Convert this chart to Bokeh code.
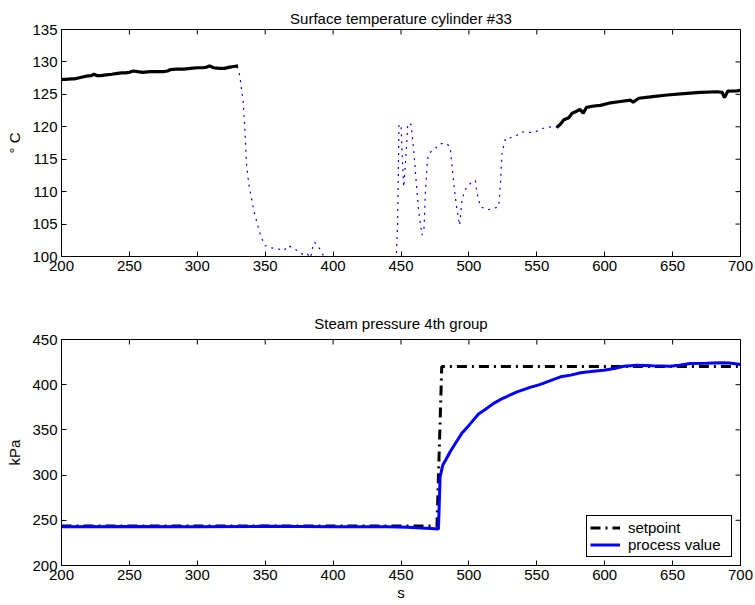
import math
from bokeh.plotting import figure
from bokeh.models import FixedTicker, Range1d, Legend, LegendItem
from bokeh.layouts import column
from bokeh.embed import file_html
from bokeh.resources import INLINE

# ---------------- data ----------------
# Surface temperature cylinder #33 (deg C) -- solid black part before the change
temp_t_before = [200, 203, 207, 210, 214, 218, 222, 224, 226, 229, 233, 237, 240, 244,
                 247, 250, 253, 256, 260, 265, 270, 275, 278, 280, 285, 290, 295, 300,
                 304, 307, 309, 312, 316, 320, 324, 327, 330]
temp_before = [127.3, 127.3, 127.4, 127.4, 127.6, 127.8, 127.9, 128.1, 127.9, 127.9, 128.0,
               128.1, 128.2, 128.3, 128.3, 128.4, 128.6, 128.5, 128.4, 128.5, 128.5, 128.5,
               128.6, 128.8, 128.9, 128.9, 129.0, 129.1, 129.1, 129.2, 129.4, 129.1, 129.0,
               129.0, 129.2, 129.3, 129.4]

# dotted blue transient part (values below 100 fall outside the axis)
temp_t_trans = [329.4, 331.3, 332.5, 333.8, 334.8, 335.5, 336.2, 337.9, 339.7, 341.6, 344.1,
                347.0, 349.7, 352.7, 355.9, 359.3, 363.7, 366.9, 371.1, 374.8, 378.4, 381.0,
                383.4, 384.6, 386.3, 389.5, 392.0, 395.0, 405, 420, 435, 444, 446.5, 447.5,
                448.5, 450, 451, 452, 453.5, 455, 456, 457.5, 459.5, 461, 463, 465.5, 467,
                468, 469.5, 471, 475, 479, 484, 486.4, 488, 489.5, 491.3, 493.2, 495, 498.2,
                502.3, 504.8, 506, 508.5, 513.4, 518.3, 522, 523.2, 524.4, 526.9, 533, 539.2,
                547.8, 552.7, 557.6, 564.5]
temp_trans = [129.3, 127.9, 125.9, 123.8, 120.5, 117.4, 114.3, 111.2, 109.2, 107.1, 105.1,
              103.0, 101.7, 101.4, 101.3, 101.2, 100.9, 101.7, 101.2, 100.8, 100.2, 100.4,
              99.8, 101.1, 102.2, 101.4, 100.5, 99.2, 97.5, 96.5, 97.0, 98.5, 99.8, 105.0,
              120.2, 120.4, 115.0, 110.7, 115.0, 120.4, 120.6, 120.3, 116.0, 112.0, 107.0,
              103.3, 104.5, 110.0, 115.0, 116.0, 116.6, 117.4, 117.4, 116.6, 113.0, 110.0,
              107.1, 104.8, 108.9, 110.7, 111.5, 111.7, 109.7, 107.7, 107.2, 107.4, 107.7,
              111.2, 115.9, 118.2, 118.4, 119.2, 119.1, 119.6, 120.0, 119.9]

# solid black part after the change
temp_t_after = [564.5, 567.4, 569.9, 573.6, 576.0, 578.5, 581.7, 584.2, 586.6, 592.0, 596.9,
                604.3, 611.6, 619.0, 621.0, 625.1, 633.7, 646.0, 658.2, 670.5, 682.8, 686.5,
                688.2, 690.7, 697.5, 700]
temp_after = [119.9, 120.4, 121.1, 121.4, 122.1, 122.3, 122.7, 122.1, 123.0, 123.2, 123.3,
              123.7, 123.9, 124.1, 123.8, 124.4, 124.6, 124.9, 125.1, 125.3, 125.4, 125.3,
              124.5, 125.5, 125.55, 125.6]

# Steam pressure 4th group (kPa)
sp_t = [200, 476.5, 480, 700]
setpoint = [243.8, 243.8, 420, 420]

pv_t = [200, 250, 300, 350, 400, 440, 455, 465, 472, 477.6, 478.8, 480.8, 483, 486.2, 490,
        494.8, 500, 507.1, 512, 518.2, 525, 535.5, 545, 552.7, 560, 567.5, 575, 582.2,
        590, 599.3, 607, 614, 624, 635, 648, 655, 663, 675, 685, 692, 700]
process_value = [243, 243.2, 243, 243.3, 243, 242.8, 242.3, 241.6, 241.0, 240.5, 298.3,
                 311.2, 317, 325.9, 335, 346.2, 355, 367.5, 372.5, 379.3, 385, 392.1, 397,
                 400.3, 404.5, 408.7, 410.6, 413.2, 414.5, 416.1, 418, 420.5, 421.6, 421,
                 420.5, 421.5, 423.5, 423.8, 424.2, 424, 422.4]

x_ticks = [200, 250, 300, 350, 400, 450, 500, 550, 600, 650, 700]
temp_ticks = [100, 105, 110, 115, 120, 125, 130, 135]
press_ticks = [200, 250, 300, 350, 400, 450]

FONT = "Liberation Sans"
FS = "15px"


def style_axis(ax, ticks):
    ax.ticker = FixedTicker(ticks=ticks)
    ax.axis_line_color = "black"
    ax.major_tick_line_color = "black"
    ax.major_tick_in = 5
    ax.major_tick_out = 0
    ax.minor_tick_line_color = None
    ax.major_label_text_font = FONT
    ax.major_label_text_color = "black"
    ax.major_label_text_font_size = FS
    ax.major_label_standoff = 4
    ax.axis_label_text_font = FONT
    ax.axis_label_text_font_size = FS
    ax.axis_label_text_font_style = "normal"
    ax.axis_label_text_color = "black"


def make_fig(height, title, title_gap, y0, y1, yticks, ylabel, xlabel, mt, mb):
    p = figure(width=753, height=height, x_range=Range1d(200, 700), y_range=Range1d(y0, y1),
               output_backend="svg", toolbar_location=None,
               min_border_left=61, min_border_right=13,
               min_border_top=mt, min_border_bottom=mb)
    p.title.text = title
    p.title.align = "center"
    p.title.text_font = FONT
    p.title.text_font_size = FS
    p.title.text_font_style = "normal"
    p.title.text_color = "black"
    p.title.standoff = title_gap
    p.grid.visible = False
    p.outline_line_color = "black"
    p.outline_line_alpha = 1
    p.outline_line_width = 1
    p.background_fill_color = "white"
    p.border_fill_color = "white"
    style_axis(p.xaxis[0], x_ticks)
    style_axis(p.yaxis[0], yticks)
    p.yaxis[0].axis_label = ylabel
    p.yaxis[0].axis_label_standoff = 6
    if xlabel:
        p.xaxis[0].axis_label = xlabel
        p.xaxis[0].axis_label_standoff = 1
    # inward tick marks on the top and right frame edges (half clipped by the frame)
    p.scatter(x_ticks, [y1] * len(x_ticks), marker="dash", angle=math.pi / 2, size=10,
              line_color="black", line_width=1)
    p.scatter([700] * len(yticks), yticks, marker="dash", angle=0, size=10,
              line_color="black", line_width=1)
    return p


p1 = make_fig(298, "Surface temperature cylinder #33", 5, 100, 135, temp_ticks,
              "° C", None, 29, 42)
p1.line(temp_t_trans, temp_trans, line_color="#0000ff", line_width=1.2, line_dash="2 5")
p1.line(temp_t_before, temp_before, line_color="black", line_width=3.2)
p1.line(temp_t_after, temp_after, line_color="black", line_width=3.2)

p2 = make_fig(307, "Steam pressure 4th group", 16, 200, 450, press_ticks,
              "kPa", "s", 41, 40)
r_sp = p2.line(sp_t, setpoint, line_color="black", line_width=3, line_dash="10 5 2 5")
r_pv = p2.line(pv_t, process_value, line_color="#0000ff", line_width=3)

legend = Legend(items=[LegendItem(label="setpoint", renderers=[r_sp]),
                       LegendItem(label="process value", renderers=[r_pv])],
                location="bottom_right")
legend.label_text_font = FONT
legend.label_text_font_size = FS
legend.label_text_color = "black"
legend.border_line_color = "black"
legend.border_line_width = 1
legend.border_line_alpha = 1
legend.background_fill_color = "white"
legend.background_fill_alpha = 1
legend.glyph_width = 30
legend.glyph_height = 17
legend.label_height = 17
legend.label_width = 100
legend.label_standoff = 8
legend.padding = 3
legend.spacing = 0
legend.margin = 8
p2.add_layout(legend, "center")

layout = column(p1, p2, spacing=0)
open("out.html", "w").write(file_html(layout, INLINE))
